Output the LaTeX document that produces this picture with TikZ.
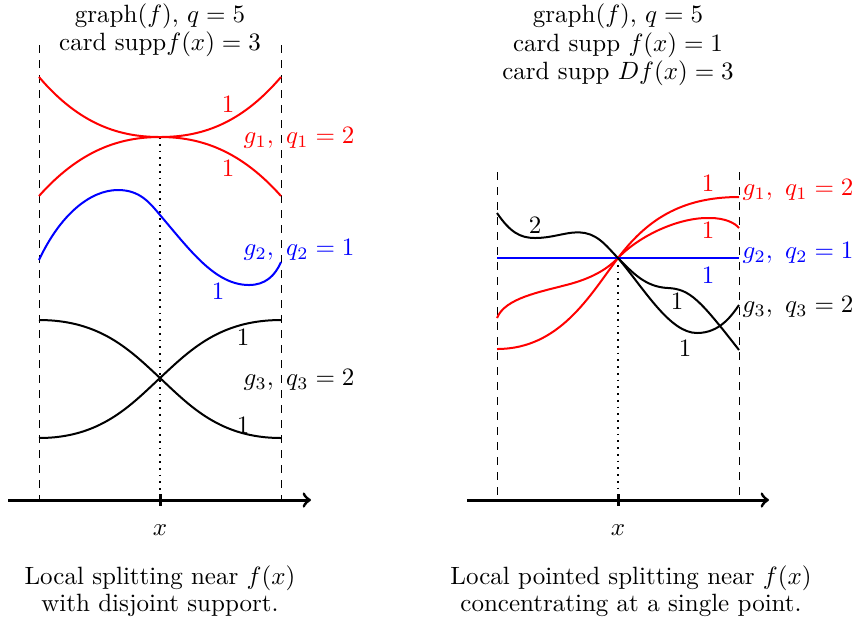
\documentclass[tikz,border=0pt]{standalone}
\usepackage{amsmath}

\tikzset{every picture/.style={line width=0.75pt}}
\tikzset{
  branch/.style={line width=0.8pt},
  guide/.style={dashed, line width=0.4pt},
  fibre/.style={dotted, line width=0.7pt},
  axisline/.style={line width=1.2pt},
  lbl/.style={inner sep=0.75pt}
}

\begin{document}
\begin{tikzpicture}[x=0.4pt,y=0.4pt,yscale=-1]
\useasboundingbox (0,0) rectangle (859,623);

%%% Left panel: disjoint support
% Text Node
\draw (160,30) node (titleL) [lbl][align=center] {graph$(f)$, $q=5$\\[-0.6pt]card supp$f(x)=3$};
%Guide lines
\coordinate (aL) at (39,45);  \coordinate (aLb) at (39,500);
\coordinate (bL) at (281,45); \coordinate (bLb) at (281,500);
\coordinate (pL) at (160,137); \coordinate (xL) at (160,500);
\draw [guide] (aL) -- (aLb) ;
\draw [guide] (bL) -- (bLb) ;
\draw [fibre] (pL) -- (xL) ;
%Axis
\coordinate (axL0) at (8,500); \coordinate (axL1) at (311,500);
\draw [axisline,->] (axL0) -- (axL1) ;
\draw [axisline] (160,494) -- (160,506) ;
%Red sheets
\draw [branch,red] (39,77) .. controls (80,125) and (120,137) .. (pL) .. controls (200,137) and (240,125) .. (281,77) ;
\draw [branch,red] (39,196) .. controls (80,150) and (120,137) .. (pL) .. controls (200,137) and (240,150) .. (281,196) ;
%Blue sheet
\draw [branch,blue] (39,260) .. controls (60,215) and (90,190) .. (118,190) .. controls (140,190) and (150,203) .. (160,215) .. controls (190,250) and (215,285) .. (249,285) .. controls (265,285) and (275,276) .. (281,262) ;
%Black sheets
\draw [branch] (39,320) .. controls (100,320) and (130,350) .. (160,378) .. controls (190,406) and (220,438) .. (281,438) ;
\draw [branch] (39,438) .. controls (100,438) and (130,406) .. (160,378) .. controls (190,350) and (220,320) .. (281,320) ;

% Text Node
\draw (228,104) node (mL1) [lbl,red] {$1$};
\draw (228,168) node (mL2) [lbl,red] {$1$};
\draw (299,138) node (gL1) [lbl,red] {$g_1,\ q_1=2$};
\draw (218,291) node (mL3) [lbl,blue] {$1$};
\draw (299,250) node (gL2) [lbl,blue] {$g_2,\ q_2=1$};
\draw (243,337) node (mL4) [lbl] {$1$};
\draw (243,425) node (mL5) [lbl] {$1$};
\draw (299,380) node (gL3) [lbl] {$g_3,\ q_3=2$};
\draw (160,530) node (xlabL) [lbl] {$x$};
\draw (160,591) node (capL) [lbl][align=center] {Local splitting near $f(x)$\\[-1.2pt]with disjoint support.};

%%% Right panel: pointed splitting
% Text Node
\draw (618,45) node (titleR) [lbl][align=center] {graph$(f)$, $q=5$\\[-0.6pt]card supp $f(x)=1$\\[-0.6pt]card supp $Df(x)=3$};
%Guide lines
\coordinate (aR) at (497,172);  \coordinate (aRb) at (497,500);
\coordinate (bR) at (739,172);  \coordinate (bRb) at (739,500);
\coordinate (pR) at (618,258); \coordinate (xR) at (618,500);
\draw [guide] (aR) -- (aRb) ;
\draw [guide] (bR) -- (bRb) ;
\draw [fibre] (pR) -- (xR) ;
%Axis
\coordinate (axR0) at (467,500); \coordinate (axR1) at (769,500);
\draw [axisline,->] (axR0) -- (axR1) ;
\draw [axisline] (618,494) -- (618,506) ;
%Red sheets
\draw [branch,red] (497,349) .. controls (560,349) and (590,295) .. (pR) .. controls (646,221) and (680,197) .. (739,197) ;
\draw [branch,red] (497,318) .. controls (505,298) and (540,292) .. (570,284) .. controls (595,277) and (608,268) .. (pR) .. controls (640,235) and (680,217) .. (710,218) .. controls (725,218) and (735,223) .. (739,228) ;
%Blue sheet
\draw [branch,blue] (497,258) -- (739,258) ;
%Black sheets
\draw [branch] (497,213) .. controls (510,232) and (520,238) .. (535,238) .. controls (555,238) and (570,230) .. (585,233) .. controls (600,236) and (608,248) .. (pR) ;
\draw [branch] (pR) .. controls (632,272) and (645,287) .. (668,288) .. controls (690,289) and (700,300) .. (739,350) ;
\draw [branch] (pR) .. controls (645,290) and (670,333) .. (697,333) .. controls (720,333) and (732,315) .. (739,305) ;

% Text Node
\draw (708,183) node (mR1) [lbl,red] {$1$};
\draw (708,230) node (mR2) [lbl,red] {$1$};
\draw (798,190) node (gR1) [lbl,red] {$g_1,\ q_1=2$};
\draw (708,275) node (mR3) [lbl,blue] {$1$};
\draw (798,253) node (gR2) [lbl,blue] {$g_2,\ q_2=1$};
\draw (535,225) node (mR4) [lbl] {$2$};
\draw (677,301) node (mR5) [lbl] {$1$};
\draw (685,348) node (mR6) [lbl] {$1$};
\draw (798,307) node (gR3) [lbl] {$g_3,\ q_3=2$};
\draw (618,530) node (xlabR) [lbl] {$x$};
\draw (631,591) node (capR) [lbl][align=center] {Local pointed splitting near $f(x)$\\[-1.2pt]concentrating at a single point.};

\end{tikzpicture}
\end{document}
